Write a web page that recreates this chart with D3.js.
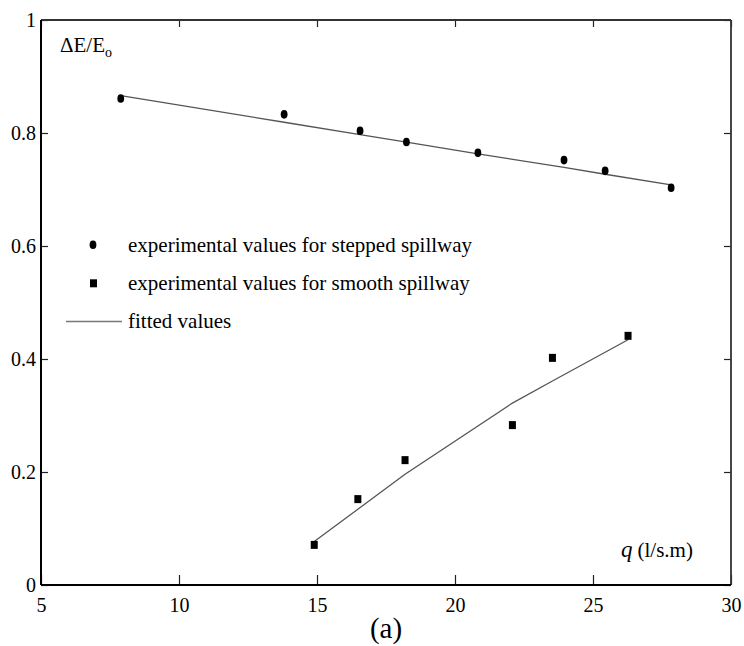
<!DOCTYPE html>
<html><head><meta charset="utf-8">
<script src="https://cdn.jsdelivr.net/npm/d3@7"></script>
<style>body{margin:0;background:#fff}svg{display:block}</style>
</head><body>
<svg id="c" width="744" height="646"></svg>
<script>
const xTicks = [5, 10, 15, 20, 25, 30];
const yTicks = [0, 0.2, 0.4, 0.6, 0.8, 1];
const yTickLabels = ["0", "0.2", "0.4", "0.6", "0.8", "1"];
const steppedQ = [7.89, 13.81, 16.56, 18.24, 20.83, 23.95, 25.44, 27.83];
const steppedE = [0.861, 0.833, 0.804, 0.784, 0.765, 0.752, 0.733, 0.703];
const steppedFit = [0.866, 0.819, 0.797, 0.784, 0.763, 0.739, 0.727, 0.708];
const smoothQ = [14.90, 16.48, 18.19, 22.08, 23.53, 26.27];
const smoothE = [0.071, 0.152, 0.221, 0.283, 0.402, 0.441];
const smoothFit = [0.077, 0.134, 0.196, 0.322, 0.361, 0.434];
const legendLabels = ["experimental values for stepped spillway", "experimental values for smooth spillway", "fitted values"];

const FONT = "Liberation Serif";
const svg = d3.select("#c").style("font-family", FONT);
const L = 41, R = 731, T = 20, B = 585;
const x = d3.scaleLinear().domain([5, 30]).range([L, R]);
const y = d3.scaleLinear().domain([0, 1]).range([B, T]);

// axes
const gx = svg.append("g").attr("transform", `translate(0,${B})`)
  .call(d3.axisBottom(x).tickValues(xTicks).tickSize(-10).tickPadding(13).tickFormat(d3.format("d")));
const gxt = svg.append("g").attr("transform", `translate(0,${T})`)
  .call(d3.axisTop(x).tickValues(xTicks).tickSize(-7).tickFormat(""));
const gy = svg.append("g").attr("transform", `translate(${L},0)`)
  .call(d3.axisLeft(y).tickValues(yTicks).tickSize(-7).tickPadding(5).tickFormat((d,i) => yTickLabels[i]));
const gyr = svg.append("g").attr("transform", `translate(${R},0)`)
  .call(d3.axisRight(y).tickValues(yTicks).tickSize(-7).tickFormat(""));
[gx, gxt, gy, gyr].forEach(g => {
  g.attr("font-family", null).style("font-family", FONT);
  g.select(".domain").remove();
  g.selectAll(".tick line").attr("stroke", "#222").attr("stroke-width", 1.2);
  g.selectAll("text").attr("font-size", 20).style("font-family", FONT).attr("fill", "#000");
});
gx.selectAll("text").attr("dy", "0.71em");
// frame
svg.append("line").attr("x1", L).attr("x2", R).attr("y1", T).attr("y2", T).attr("stroke", "#333").attr("stroke-width", 1.8);
svg.append("line").attr("x1", R).attr("x2", R).attr("y1", T).attr("y2", B).attr("stroke", "#333").attr("stroke-width", 1.8);
svg.append("line").attr("x1", L).attr("x2", R).attr("y1", B).attr("y2", B).attr("stroke", "#000").attr("stroke-width", 2);
svg.append("line").attr("x1", L).attr("x2", L).attr("y1", T).attr("y2", B).attr("stroke", "#000").attr("stroke-width", 2);

// fitted lines
const line = d3.line().x(d => x(d[0])).y(d => y(d[1]));
svg.append("path").datum(steppedQ.map((q, i) => [q, steppedFit[i]]))
  .attr("d", line).attr("fill", "none").attr("stroke", "#555").attr("stroke-width", 1.3);
svg.append("path").datum(smoothQ.map((q, i) => [q, smoothFit[i]]))
  .attr("d", line).attr("fill", "none").attr("stroke", "#555").attr("stroke-width", 1.3);

// points
svg.selectAll(".st").data(steppedQ).enter().append("ellipse")
  .attr("cx", d => x(d)).attr("cy", (d, i) => y(steppedE[i])).attr("rx", 3.4).attr("ry", 4.3).attr("fill", "#000");
svg.selectAll(".sm").data(smoothQ).enter().append("rect")
  .attr("x", d => x(d) - 3.5).attr("y", (d, i) => y(smoothE[i]) - 4).attr("width", 7).attr("height", 8).attr("fill", "#000");

// legend
const lg = svg.append("g");
const rows = [244.8, 283.3, 321.5];
lg.append("ellipse").attr("cx", 93).attr("cy", rows[0]).attr("rx", 3.4).attr("ry", 4.3).attr("fill", "#000");
lg.append("rect").attr("x", 90).attr("y", rows[1] - 4).attr("width", 7).attr("height", 8).attr("fill", "#000");
lg.append("line").attr("x1", 66).attr("x2", 122).attr("y1", rows[2]).attr("y2", rows[2]).attr("stroke", "#777").attr("stroke-width", 1.3);
legendLabels.forEach((t, i) => {
  lg.append("text").attr("x", 128).attr("y", rows[i]).attr("dy", "0.33em").attr("font-size", 21).style("font-family", FONT).text(t);
});

// axis titles
const yt = svg.append("text").attr("x", 60).attr("y", 52).attr("font-size", 21).style("font-family", FONT);
yt.append("tspan").text("ΔE/E");
yt.append("tspan").attr("font-size", 14).attr("dy", 5).text("o");
const xt = svg.append("text").attr("x", 621).attr("y", 557).attr("font-size", 21).style("font-family", FONT);
xt.append("tspan").attr("font-style", "italic").attr("font-size", 23).text("q");
xt.append("tspan").attr("dx", 5).text("(l/s.m)");
svg.append("text").attr("x", 386).attr("y", 638).attr("text-anchor", "middle").attr("font-size", 29).style("font-family", FONT).text("(a)");
</script>
</body></html>
